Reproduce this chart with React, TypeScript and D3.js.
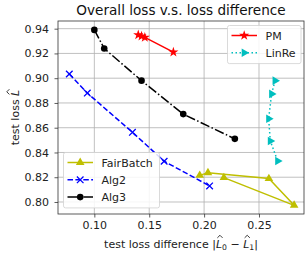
import React, { useEffect, useRef } from 'react';
import * as d3 from 'd3';

// values
const pmX = [0.140, 0.143, 0.146, 0.172];
const pmY = [0.935, 0.934, 0.933, 0.921];
const linreX = [0.2646, 0.2615, 0.2588, 0.2603, 0.267];
const linreY = [0.898, 0.8873, 0.8673, 0.8493, 0.8331];
const fairX = [0.196, 0.2035, 0.259, 0.282, 0.218];
const fairY = [0.8215, 0.8237, 0.8189, 0.7973, 0.8197];
const alg2X = [0.0772, 0.0936, 0.1347, 0.1636, 0.205];
const alg2Y = [0.9034, 0.888, 0.8563, 0.8329, 0.813];
const alg3X = [0.100, 0.109, 0.143, 0.181, 0.228];
const alg3Y = [0.939, 0.924, 0.898, 0.871, 0.851];
const xTicks = [0.10, 0.15, 0.20, 0.25];
const yTicks = [0.80, 0.82, 0.84, 0.86, 0.88, 0.90, 0.92, 0.94];

const W = 305, H = 256;
const M = { left: 58, right: 304, top: 21, bottom: 214 };
const FONT = 'DejaVu Sans, sans-serif';
const FS = 11;

const series = [
  { name: 'PM', xs: pmX, ys: pmY, color: '#ff0000', dash: null, marker: 'star' },
  { name: 'LinRe', xs: linreX, ys: linreY, color: '#00bfbf', dash: '1.5,2.5', marker: 'right' },
  { name: 'FairBatch', xs: fairX, ys: fairY, color: '#bfbf00', dash: null, marker: 'up' },
  { name: 'Alg2', xs: alg2X, ys: alg2Y, color: '#0000ff', dash: '5.5,2.4', marker: 'x' },
  { name: 'Alg3', xs: alg3X, ys: alg3Y, color: '#000000', dash: '9.6,2.4,1.5,2.4', marker: 'circle' },
];

function drawMarker(g: any, kind: string, x: number, y: number, color: string) {
  if (kind === 'circle') {
    g.append('circle').attr('cx', x).attr('cy', y).attr('r', 3.3).attr('fill', color);
  } else if (kind === 'x') {
    const s = 3.3;
    g.append('path')
      .attr('d', `M${x - s},${y - s}L${x + s},${y + s}M${x - s},${y + s}L${x + s},${y - s}`)
      .attr('stroke', color).attr('stroke-width', 1.3).attr('fill', 'none');
  } else if (kind === 'star') {
    g.append('path')
      .attr('d', d3.symbol(d3.symbolStar, 32)())
      .attr('transform', `translate(${x},${y})`)
      .attr('fill', color);
  } else {
    const sym = d3.symbol(d3.symbolTriangle, 32)();
    const rot = kind === 'right' ? 90 : 0;
    g.append('path')
      .attr('d', sym)
      .attr('transform', `translate(${x},${y}) rotate(${rot})`)
      .attr('fill', color);
  }
}

// put a hat over every italic L in a text element
function addHats(g: any, textSel: any) {
  const node = textSel.node() as SVGTextElement;
  const str = node.textContent || '';
  for (let i = 0; i < str.length; i++) {
    if (str[i] !== 'L') continue;
    const ext = node.getExtentOfChar(i);
    const base = node.getStartPositionOfChar(i).y;
    const cx = ext.x + ext.width / 2 + 1;
    const top = base - FS * 0.73 - 1.6;
    g.append('path')
      .attr('d', `M${cx - 2.6},${top}L${cx},${top - 2.6}L${cx + 2.6},${top}`)
      .attr('fill', 'none').attr('stroke', '#222').attr('stroke-width', 0.9);
  }
}

const App = () => {
  const svgRef = useRef<SVGSVGElement>(null);

  useEffect(() => {
    const svg = d3.select(svgRef.current);
    svg.selectAll('*').remove();

    const x = d3.scaleLinear().domain([0.0669, 0.291]).range([M.left, M.right]);
    const y = d3.scaleLinear().domain([0.7903, 0.9462]).range([M.bottom, M.top]);

    svg.append('rect').attr('width', W).attr('height', H).attr('fill', 'white');

    // grid
    const grid = svg.append('g').attr('stroke', '#b0b0b0').attr('stroke-width', 0.8);
    xTicks.forEach((t) => grid.append('line').attr('x1', x(t)).attr('x2', x(t)).attr('y1', M.top).attr('y2', M.bottom));
    yTicks.forEach((t) => grid.append('line').attr('y1', y(t)).attr('y2', y(t)).attr('x1', M.left).attr('x2', M.right));

    // axes
    const xAxis = svg.append('g').attr('transform', `translate(0,${M.bottom})`)
      .call(d3.axisBottom(x).tickValues(xTicks).tickFormat(d3.format('.2f')).tickSize(3.5).tickPadding(3.7));
    const yAxis = svg.append('g').attr('transform', `translate(${M.left},0)`)
      .call(d3.axisLeft(y).tickValues(yTicks).tickFormat(d3.format('.2f')).tickSize(3.5).tickPadding(5.5));
    [xAxis, yAxis].forEach((a) => {
      a.select('.domain').remove();
      a.selectAll('line').attr('stroke', '#333').attr('stroke-width', 0.8);
      a.selectAll('text').attr('font-family', FONT).attr('font-size', FS).attr('fill', '#222');
    });

    // spines
    svg.append('rect').attr('x', M.left).attr('y', M.top)
      .attr('width', M.right - M.left).attr('height', M.bottom - M.top)
      .attr('fill', 'none').attr('stroke', '#333').attr('stroke-width', 0.8);

    // series
    const line = d3.line<[number, number]>().x((d) => x(d[0])).y((d) => y(d[1]));
    const plot = svg.append('g');
    series.forEach((s) => {
      const pts: [number, number][] = s.xs.map((v, i) => [v, s.ys[i]]);
      plot.append('path').attr('d', line(pts)).attr('fill', 'none')
        .attr('stroke', s.color).attr('stroke-width', 1.5)
        .attr('stroke-dasharray', s.dash);
      pts.forEach((p) => drawMarker(plot, s.marker, x(p[0]), y(p[1]), s.color));
    });

    // title and labels
    svg.append('text').attr('x', (M.left + M.right) / 2).attr('y', 15)
      .attr('text-anchor', 'middle').attr('font-family', FONT).attr('font-size', 13.6)
      .attr('fill', '#111').text('Overall loss v.s. loss difference');

    const xg = svg.append('g');
    const xl = xg.append('text').attr('x', (M.left + M.right) / 2).attr('y', 247.5)
      .attr('text-anchor', 'middle').attr('font-family', FONT).attr('font-size', FS).attr('fill', '#222');
    xl.append('tspan').text('test loss difference |');
    xl.append('tspan').attr('font-style', 'italic').text('L');
    xl.append('tspan').attr('font-size', 7.7).attr('dy', 2.5).text('0');
    xl.append('tspan').attr('dy', -2.5).text(' \u2212 ');
    xl.append('tspan').attr('font-style', 'italic').text('L');
    xl.append('tspan').attr('font-size', 7.7).attr('dy', 2.5).text('1');
    xl.append('tspan').attr('dy', -2.5).text('|');
    addHats(xg, xl);

    const yg = svg.append('g').attr('transform', `translate(19,${(M.top + M.bottom) / 2}) rotate(-90)`);
    const yl = yg.append('text').attr('text-anchor', 'middle').attr('font-family', FONT)
      .attr('font-size', FS).attr('fill', '#222');
    yl.append('tspan').text('test loss ');
    yl.append('tspan').attr('font-style', 'italic').text('L');
    addHats(yg, yl);

    // legends
    const legend = (lx: number, ly: number, w: number, names: string[]) => {
      const lg = svg.append('g');
      lg.append('rect').attr('x', lx).attr('y', ly).attr('width', w).attr('height', names.length * 17.3 + 3.5)
        .attr('rx', 2).attr('fill', 'white').attr('fill-opacity', 0.85)
        .attr('stroke', '#d0d0d0').attr('stroke-width', 0.8);
      names.forEach((n, i) => {
        const s = series.find((d) => d.name === n)!;
        const cy = ly + 10 + i * 17.3;
        lg.append('line').attr('x1', lx + 4).attr('x2', lx + 29.5).attr('y1', cy).attr('y2', cy)
          .attr('stroke', s.color).attr('stroke-width', 1.5).attr('stroke-dasharray', s.dash);
        drawMarker(lg, s.marker, lx + 16.7, cy, s.color);
        lg.append('text').attr('x', lx + 38).attr('y', cy + 4).attr('font-family', FONT)
          .attr('font-size', FS).attr('fill', '#222').text(n);
      });
    };
    legend(227.5, 25.5, 73.5, ['PM', 'LinRe']);
    legend(63.5, 152.5, 96, ['FairBatch', 'Alg2', 'Alg3']);
  }, []);

  return (
    <svg ref={svgRef} width={W} height={H}
      style={{ position: 'absolute', left: 0, top: 0, display: 'block' }}></svg>
  );
};

export default App;
